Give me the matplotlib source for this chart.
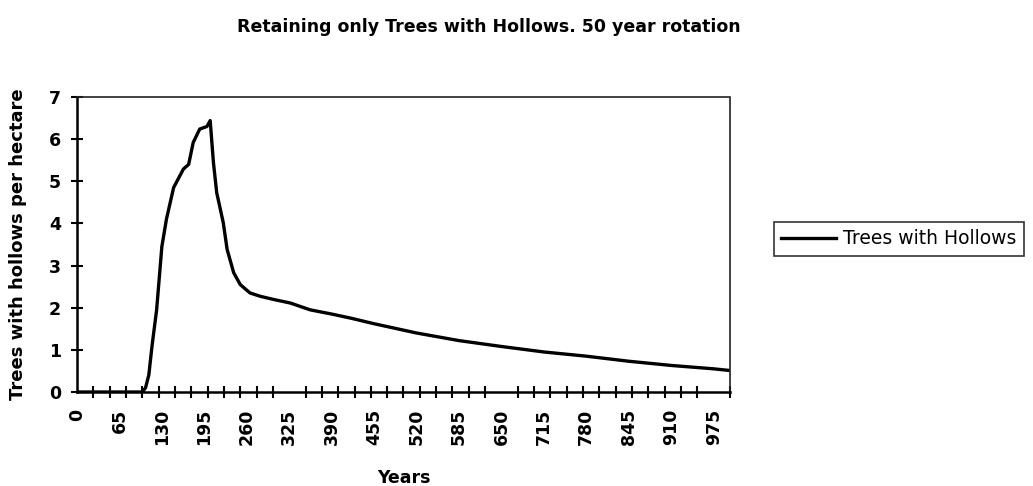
import matplotlib
matplotlib.use("Agg")
import matplotlib.pyplot as plt
import numpy as np

plt.rcParams['font.family'] = ['DejaVu Sans']

years = [0, 100, 105, 110, 115, 122, 130, 137, 148, 163, 171, 178, 188, 199, 204,
         209, 214, 224, 230, 240, 250, 265, 281, 300, 327, 357, 390, 420, 455,
         520, 585, 650, 715, 780, 845, 910, 975, 1000]
hollows = [0, 0, 0.1, 0.4, 1.1, 1.95, 3.45, 4.1, 4.85, 5.29, 5.4, 5.92, 6.24, 6.3, 6.44,
           5.44, 4.73, 4.02, 3.38, 2.83, 2.55, 2.35, 2.27, 2.2, 2.11, 1.95, 1.85, 1.75, 1.62,
           1.40, 1.22, 1.08, 0.95, 0.85, 0.73, 0.63, 0.55, 0.51]
series_name = "Trees with Hollows"
xtick_labels = [str(v) for v in range(0, 976, 65)]
yticks = [0, 1, 2, 3, 4, 5, 6, 7]

fig = plt.figure(figsize=(10.33, 4.86), dpi=100)
ax = fig.add_axes([0.0745, 0.1934, 0.6322, 0.607])

line, = ax.plot(years, hollows, color='black', lw=2.4, label=series_name, solid_joinstyle='round')

ax.set_xlim(0, 1000)
ax.set_ylim(0, 7)
ax.set_xticks([int(v) for v in xtick_labels])
ax.set_xticklabels(xtick_labels, rotation=90, fontsize=12.5, fontweight='bold')
ax.set_xticks(np.arange(0, 1001, 25), minor=True)
ax.tick_params(axis='x', which='major', length=0, pad=12)
ax.tick_params(axis='x', which='minor', direction='inout', length=9, width=1.5)
ax.set_yticks(yticks)
ax.set_yticklabels([str(v) for v in yticks], fontsize=12.5, fontweight='bold')
ax.tick_params(axis='y', which='major', direction='inout', length=9, width=1.5, pad=7)

for s in ['top', 'right']:
    ax.spines[s].set_linestyle((0, (1, 1)))
    ax.spines[s].set_linewidth(1.2)
    ax.spines[s].set_color('#222222')
for s in ['left', 'bottom']:
    ax.spines[s].set_linewidth(1.8)
    ax.spines[s].set_color('black')

ax.set_xlabel('Years', fontsize=12.5, fontweight='bold', labelpad=17)
ax.set_ylabel('Trees with hollows per hectare', fontsize=13, fontweight='bold', labelpad=16)

fig.text(0.4735, 0.945, 'Retaining only Trees with Hollows. 50 year rotation',
         ha='center', va='center', fontsize=12.5, fontweight='bold')

leg = fig.legend(handles=[line], loc='center left', bbox_to_anchor=(0.740, 0.509),
                 frameon=True, fancybox=False, edgecolor='black', fontsize=13.5,
                 handlelength=2.9, handletextpad=0.4, borderpad=0.4)
leg.get_frame().set_linewidth(1.2)

fig.savefig('out.png', dpi=100)
